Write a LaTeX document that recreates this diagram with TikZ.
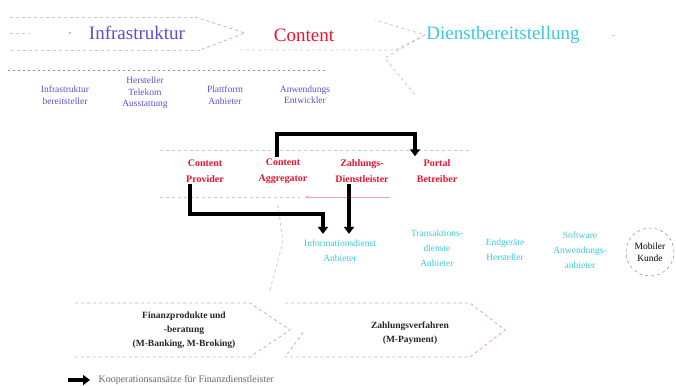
\documentclass[tikz,border=0pt]{standalone}
\usepackage{fontspec}
\setmainfont{Liberation Serif}
\usetikzlibrary{arrows.meta}
\definecolor{infrablue}{HTML}{5A4FD0}
\definecolor{contred}{HTML}{E8142E}
\definecolor{dienstcyan}{HTML}{3CC8DC}
\definecolor{faintgrey}{HTML}{C8C8C8}
\definecolor{faintred}{HTML}{F0A0A8}
\tikzset{
  chevron/.style={draw=faintgrey, dashed, line width=0.8pt},
  redchevron/.style={draw=faintred, dashed, line width=0.8pt},
  infratext/.style={text=infrablue, font=\fontsize{9.5}{11.5}\selectfont, align=center, inner sep=1pt},
  conttext/.style={text=contred, font=\bfseries\fontsize{10}{16}\selectfont, align=center, inner sep=1pt},
  diensttext/.style={text=dienstcyan, font=\fontsize{9.5}{15}\selectfont, align=center, inner sep=1pt},
  bottomtext/.style={text=black!85, font=\bfseries\fontsize{9.5}{14}\selectfont, align=center, inner sep=1pt},
  coop/.style={draw=black, line width=3.6pt, -{Triangle[length=7pt,width=10pt]}},
  bigtitle/.style={font=\fontsize{19}{22}\selectfont, inner sep=1pt},
}
\begin{document}
\begin{tikzpicture}[x=1pt,y=-1pt]
\useasboundingbox (0,0) rectangle (676,385);
% top chevrons
\draw[chevron] (10,17) -- (195,17);
\draw[redchevron] (195,17) -- (245,33) -- (200,50);
\draw[chevron] (200,50) -- (10,50);
\draw[chevron] (10,33) -- (30,33);
\draw[chevron] (240,50) -- (395,50) -- (425,35) -- (375,20);
\draw[chevron] (425,35) -- (385,58) -- (415,95);
\draw[chevron] (612,35) -- (618,35);
\node[bigtitle, text=infrablue] (tinf) at (137,33) {Infrastruktur};
\node[text=infrablue, font=\fontsize{9}{10}\selectfont] (tdot) at (70,34) {-};
\node[bigtitle, text=contred] (tcon) at (304,35) {Content};
\node[bigtitle, text=dienstcyan] (tdie) at (503,35) {Dienstbereitstellung};
% dotted separator
\draw[draw=black!45, dash pattern=on 2pt off 3pt, line width=0.8pt] (8,70) -- (325,70);
% infrastructure items
\node[infratext] (i1) at (65,95) {Infrastruktur\\bereitsteller};
\node[infratext] (i2) at (145,93) {Hersteller\\Telekom\\Ausstattung};
\node[infratext] (i3) at (225,95) {Plattform\\Anbieter};
\node[infratext] (i4) at (305,95) {Anwendungs\\Entwickler};
% content items
\draw[chevron] (160,150) -- (470,150);
\draw[chevron] (160,197) -- (300,197);
\draw[draw=faintred, line width=0.6pt, -{Stealth[length=4pt]}] (390,197) -- (305,197);
\node[conttext] (cP) at (205,171) {Content\\Provider};
\node[conttext] (cA) at (283,171) {Content\\Aggregator};
\node[conttext] (zD) at (362,171) {Zahlungs-\\Dienstleister};
\node[conttext] (pB) at (437,171) {Portal\\Betreiber};
% dienst items
\draw[chevron] (278,205) -- (283,242) -- (270,290);
\node[diensttext] (iD) at (340,251) {Informationsdienst\\Anbieter};
\node[diensttext] (tD) at (437,248) {Transaktions-\\dienste\\Anbieter};
\node[diensttext] (eG) at (505,250) {Endgeräte\\Hersteller};
\node[diensttext] (sW) at (580,250) {Software\\Anwendungs-\\anbieter};
\node[draw=black!55, dashed, circle, minimum size=48pt, inner sep=0pt, align=center,
      font=\fontsize{9.5}{12}\selectfont] (mK) at (650,252) {Mobiler\\Kunde};
% cooperation arrows
\coordinate (topY) at (0,134);
\coordinate (lowY) at (0,214);
\draw[coop] ([xshift=-6pt]cA.north) -- ([xshift=-6pt]cA.north |- topY) -| ([xshift=-22pt,yshift=2pt]pB.north);
\draw[coop] ([xshift=-15pt]cP.south) -- ([xshift=-15pt]cP.south |- lowY) -| ([xshift=-17pt,yshift=5pt]iD.north);
\draw[coop] ([xshift=-13pt]zD.south) -- ([xshift=9pt,yshift=5pt]iD.north);
% bottom chevrons
\draw[redchevron] (75,303) -- (250,303) -- (290,330) -- (250,357) -- (75,357);
\draw[redchevron] (285,303) -- (470,303) -- (505,330) -- (470,357) -- (285,357) -- (305,330);
\node[bottomtext] (fP) at (184,330) {Finanzprodukte und\\-beratung\\(M-Banking, M-Broking)};
\node[bottomtext] (zV) at (410,333) {Zahlungsverfahren\\(M-Payment)};
% legend
\coordinate (lgA) at (68,380);
\coordinate (lgB) at (90,380);
\draw[coop] (lgA) -- (lgB);
\node[anchor=west, text=black!60, font=\fontsize{10}{12}\selectfont] (lgT) at (95,380) {Kooperationsansätze für Finanzdienstleister};
\end{tikzpicture}
\end{document}
